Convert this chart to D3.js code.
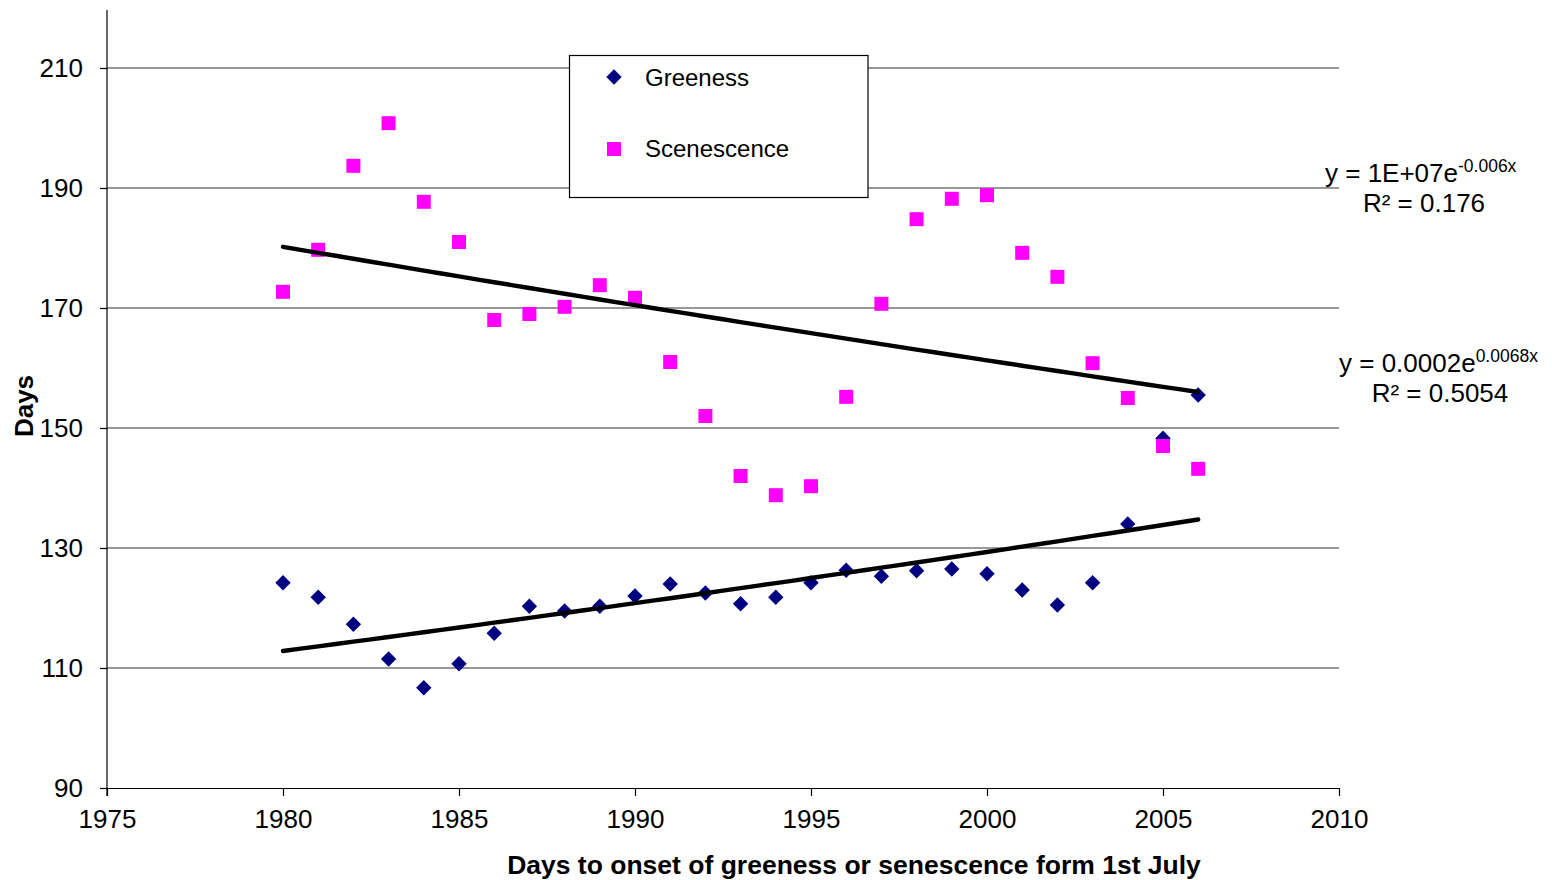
<!DOCTYPE html>
<html>
<head>
<meta charset="utf-8">
<script src="https://cdn.jsdelivr.net/npm/d3@7"></script>
<style>
  html, body { margin: 0; padding: 0; background: #fff; }
  svg { display: block; font-family: "Liberation Sans", Arial, sans-serif; }
</style>
</head>
<body>
<svg id="chart" width="1552" height="880"></svg>
<script>
// Years observed
const years = [1980,1981,1982,1983,1984,1985,1986,1987,1988,1989,1990,1991,1992,1993,
               1994,1995,1996,1997,1998,1999,2000,2001,2002,2003,2004,2005,2006];

// Days to onset of greeness
const greeness = [124.2,121.8,117.3,111.5,106.7,110.7,115.8,120.3,119.5,120.3,122.0,124.0,122.5,120.7,
                  121.8,124.2,126.3,125.3,126.2,126.5,125.7,123.0,120.5,124.2,134.0,148.3,155.5];

// Days to onset of senescence
const scenescence = [172.7,179.7,193.7,200.8,187.7,181.0,168.0,169.0,170.2,173.8,171.7,161.0,152.0,142.0,
                     138.8,140.3,155.2,170.7,184.8,188.2,188.8,179.2,175.2,160.8,155.0,147.0,143.2];

// Axis ticks
const xTicks = [1975,1980,1985,1990,1995,2000,2005,2010];
const yTicks = [90,110,130,150,170,190,210];

// Trendline equation labels
const eqScen = { main: "y = 1E+07e", sup: "-0.006x", r2: "R² = 0.176" };
const eqGreen = { main: "y = 0.0002e", sup: "0.0068x", r2: "R² = 0.5054" };

const legendNames = ["Greeness", "Scenescence"];
const colors = { green: "#000080", scen: "#FF00FF" };

const svg = d3.select("#chart");

const x = d3.scaleLinear().domain([1975, 2010]).range([107, 1339]);
const y = d3.scaleLinear().domain([90, 220]).range([788, 8]);

// Horizontal gridlines
svg.append("g")
  .selectAll("line")
  .data(yTicks.filter(d => d > 90))
  .join("line")
  .attr("x1", x(1975)).attr("x2", x(2010))
  .attr("y1", d => y(d)).attr("y2", d => y(d))
  .attr("stroke", "#333").attr("stroke-width", 1.2);

// Y axis
const yAxis = svg.append("g")
  .attr("transform", `translate(${x(1975)},0)`)
  .call(d3.axisLeft(y).tickValues(yTicks).tickSize(7).tickPadding(17).tickSizeOuter(0));
yAxis.select(".domain").remove();
yAxis.append("line")
  .attr("x1", 0).attr("x2", 0).attr("y1", 10).attr("y2", 796)
  .attr("stroke", "#000").attr("stroke-width", 1.2);
yAxis.selectAll(".tick line").attr("stroke", "#000").attr("stroke-width", 1.2);
yAxis.selectAll(".tick text")
  .attr("font-size", 26).attr("fill", "#000")
  .attr("font-family", "Liberation Sans, Arial, sans-serif");

// X axis
const xAxis = svg.append("g")
  .attr("transform", `translate(0,${y(90)})`)
  .call(d3.axisBottom(x).tickValues(xTicks).tickFormat(d3.format("d")).tickSize(8).tickPadding(14).tickSizeOuter(0));
xAxis.select(".domain").attr("stroke", "#000").attr("stroke-width", 1.2);
xAxis.selectAll(".tick line").attr("stroke", "#000").attr("stroke-width", 1.2);
xAxis.selectAll(".tick text")
  .attr("font-size", 26).attr("fill", "#000")
  .attr("font-family", "Liberation Sans, Arial, sans-serif");

// Exponential least-squares fit: ln(v) = a + b*t
function expFit(xs, vs) {
  const n = xs.length;
  const ly = vs.map(Math.log);
  const mx = d3.mean(xs), my = d3.mean(ly);
  let sxy = 0, sxx = 0;
  for (let i = 0; i < n; i++) { sxy += (xs[i] - mx) * (ly[i] - my); sxx += (xs[i] - mx) ** 2; }
  const b = sxy / sxx, a = my - b * mx;
  return t => Math.exp(a + b * t);
}

const fitGreen = expFit(years, greeness);
const fitScen = expFit(years, scenescence);

// Markers: greeness diamonds first, senescence squares above
const diamond = d3.symbol().type(d3.symbolSquare).size(118)();
svg.append("g")
  .selectAll("path")
  .data(years.map((t, i) => [t, greeness[i]]))
  .join("path")
  .attr("d", diamond)
  .attr("transform", d => `translate(${x(d[0])},${y(d[1])}) rotate(45)`)
  .attr("fill", colors.green);

svg.append("g")
  .selectAll("rect")
  .data(years.map((t, i) => [t, scenescence[i]]))
  .join("rect")
  .attr("x", d => x(d[0]) - 7).attr("y", d => y(d[1]) - 7)
  .attr("width", 14).attr("height", 14)
  .attr("fill", colors.scen);

// Trendlines
const line = d3.line().x(d => x(d[0])).y(d => y(d[1]));
const tYears = d3.range(years[0], years[years.length - 1] + 0.5, 0.5);
[fitScen, fitGreen].forEach(f => {
  svg.append("path")
    .attr("d", line(tYears.map(t => [t, f(t)])))
    .attr("fill", "none").attr("stroke", "#000")
    .attr("stroke-width", 4.4).attr("stroke-linecap", "round");
});

// Equation labels
function eqLabel(eq, xStart, yBase, r2Center) {
  const t = svg.append("text")
    .attr("x", xStart).attr("y", yBase)
    .attr("font-size", 26).attr("fill", "#000");
  t.append("tspan").text(eq.main);
  t.append("tspan").attr("dy", -10).attr("font-size", 17.5).text(eq.sup);
  svg.append("text")
    .attr("x", r2Center).attr("y", yBase + 30)
    .attr("text-anchor", "middle")
    .attr("font-size", 26).attr("fill", "#000")
    .text(eq.r2);
}
eqLabel(eqScen, 1325, 182, 1424);
eqLabel(eqGreen, 1339, 372, 1440);

// Legend
const lg = svg.append("g");
lg.append("rect")
  .attr("x", 569.5).attr("y", 55.5).attr("width", 298.5).attr("height", 142)
  .attr("fill", "#fff").attr("stroke", "#000").attr("stroke-width", 1.2);
lg.append("path")
  .attr("d", diamond)
  .attr("transform", "translate(614,77) rotate(45)")
  .attr("fill", colors.green);
lg.append("rect")
  .attr("x", 607).attr("y", 142).attr("width", 14).attr("height", 14)
  .attr("fill", colors.scen);
lg.selectAll("text.leg")
  .data(legendNames)
  .join("text")
  .attr("class", "leg")
  .attr("x", 645).attr("y", (d, i) => 86 + i * 71)
  .attr("font-size", 24).attr("fill", "#000")
  .text(d => d);

// Axis titles
svg.append("text")
  .attr("x", 854).attr("y", 874)
  .attr("text-anchor", "middle")
  .attr("font-size", 26.5).attr("font-weight", "bold").attr("fill", "#000")
  .text("Days to onset of greeness or senescence form 1st July");

svg.append("text")
  .attr("transform", "translate(33,406) rotate(-90)")
  .attr("text-anchor", "middle")
  .attr("font-size", 26).attr("font-weight", "bold").attr("fill", "#000")
  .text("Days");
</script>
</body>
</html>
